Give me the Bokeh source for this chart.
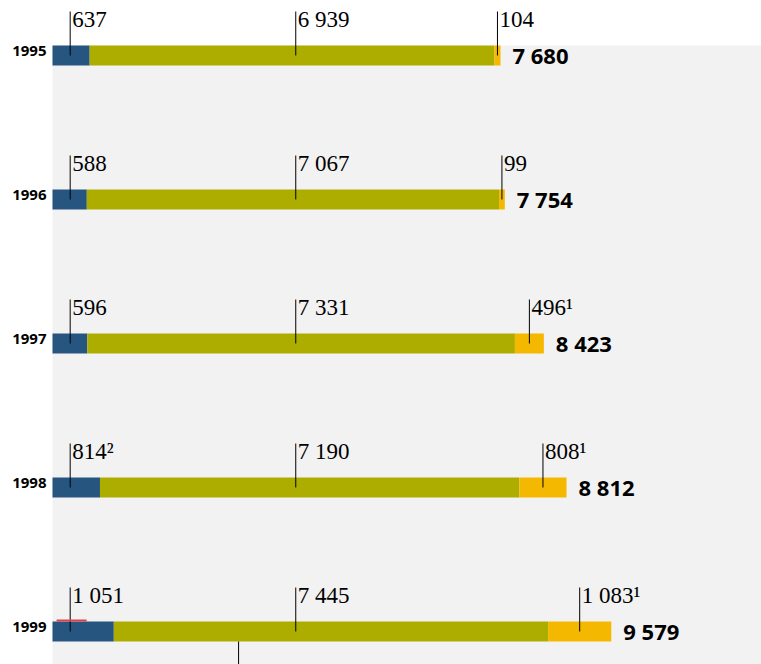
from bokeh.plotting import figure
from bokeh.models import Range1d, BoxAnnotation
from bokeh.core.properties import value
from bokeh.embed import file_html
from bokeh.resources import INLINE

# ---- data ----
years = ["1995", "1996", "1997", "1998", "1999"]
blue = [637, 588, 596, 814, 1051]
olive = [6939, 7067, 7331, 7190, 7445]
yellow = [104, 99, 496, 808, 1083]
totals = [7680, 7754, 8423, 8812, 9579]
blue_notes = ["", "", "", "²", ""]
olive_notes = ["", "", "", "", ""]
yellow_notes = ["", "", "¹", "¹", "¹"]

# ---- layout constants ----
W, H = 761, 664
K = 448 / 7680.0          # px per unit
ROW = 144.0               # px per row
X0PX = 52                 # px position of value 0 in the frame
Y0PX = 55                 # px position of first row centre from top
BAR_H = 20 / ROW

def fmt(v):
    return f"{v:,}".replace(",", " ")

BLUE = "#26557f"
OLIVE = "#adad00"
YELLOW = "#f5b800"
GRAY = "#f2f2f2"

p = figure(width=W, height=H, output_backend="svg", toolbar_location=None,
           x_range=Range1d(-X0PX / K, (W - X0PX) / K),
           y_range=Range1d(Y0PX / ROW - H / ROW, Y0PX / ROW),
           min_border=0, x_axis_type=None, y_axis_type=None)
p.grid.visible = False
p.outline_line_color = None
p.background_fill_color = "white"
p.border_fill_color = "white"

p.add_layout(BoxAnnotation(left=0, top=BAR_H / 2, fill_color=GRAY, fill_alpha=1,
                           line_color=None, level="underlay"))

ys = [-i for i in range(len(years))]
o_right = [b + o for b, o in zip(blue, olive)]
y_right = [a + c for a, c in zip(o_right, yellow)]

p.hbar(y=ys, left=0, right=blue, height=BAR_H, fill_color=BLUE, line_color=None)
p.hbar(y=ys, left=blue, right=o_right, height=BAR_H, fill_color=OLIVE, line_color=None)
p.hbar(y=ys, left=o_right, right=y_right, height=BAR_H, fill_color=YELLOW, line_color=None)

# leader positions
blue_x = [303] * len(years)
olive_x = [4170] * len(years)
yellow_x = [l + c / 2 for l, c in zip(o_right, yellow)]

lead_x = blue_x + olive_x + yellow_x
lead_y = ys * 3
p.segment(x0=lead_x, y0=[y + 44 / ROW for y in lead_y], x1=lead_x, y1=lead_y,
          line_color="black", line_width=1)

labels = ([fmt(v) + n for v, n in zip(blue, blue_notes)] +
          [fmt(v) + n for v, n in zip(olive, olive_notes)] +
          [fmt(v) + n for v, n in zip(yellow, yellow_notes)])
p.text(x=lead_x, y=lead_y, text=labels, x_offset=2, y_offset=-36,
       text_font=value("Liberation Serif"), text_font_size="23px",
       text_baseline="alphabetic", text_align="left", text_color="black")

# totals
p.text(x=y_right, y=ys, text=[fmt(t) for t in totals], x_offset=12, y_offset=-1,
       text_font=value("Open Sans"), text_font_style="bold", text_font_size="22px",
       text_baseline="alphabetic", text_align="left", text_color="black")

# years
p.text(x=[0] * len(years), y=ys, text=years, x_offset=-6, y_offset=-5,
       text_font=value("Open Sans"), text_font_style="bold", text_font_size="15px",
       text_baseline="alphabetic", text_align="right", text_color="black")

# small red mark over 1999 and leader of the next row
p.segment(x0=[70], y0=[ys[-1] + BAR_H / 2 + 1 / ROW], x1=[585], y1=[ys[-1] + BAR_H / 2 + 1 / ROW],
          line_color="#e0404a", line_width=2)
p.segment(x0=[3190], y0=[ys[-1] - BAR_H / 2], x1=[3190], y1=[ys[-1] - 1.0],
          line_color="black", line_width=1)

open("out.html", "w").write(file_html(p, INLINE))
